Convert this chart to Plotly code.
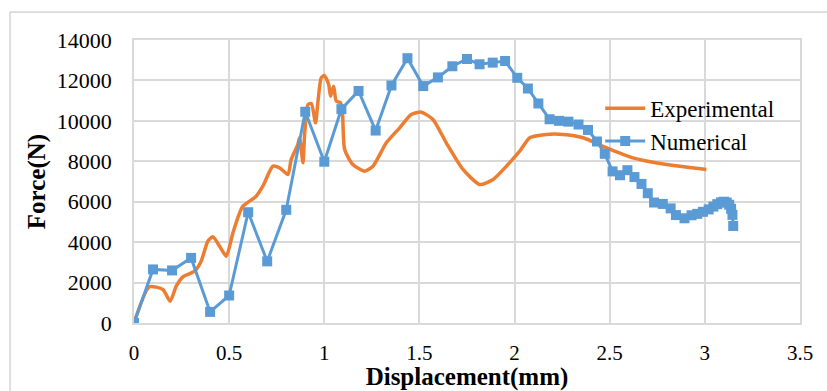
import plotly.graph_objects as go

# Experimental series (displacement mm, force N)
exp_x = [0, 0.081, 0.152, 0.19, 0.222, 0.257, 0.318, 0.353, 0.388, 0.414, 0.45, 0.485,
         0.52, 0.555, 0.572, 0.642, 0.677, 0.73, 0.765, 0.809, 0.826, 0.861, 0.87, 0.888,
         0.896, 0.914, 0.932, 0.954, 0.966, 0.984, 1.0, 1.023, 1.033, 1.049, 1.063, 1.085,
         1.095, 1.107, 1.15, 1.212, 1.256, 1.326, 1.396, 1.457, 1.51, 1.571, 1.641, 1.729,
         1.817, 1.887, 1.957, 2.027, 2.08, 2.167, 2.255, 2.36, 2.483, 2.622, 2.798, 3.008]
exp_y = [0, 1790, 1657, 1080, 1820, 2285, 2563, 3057, 4047, 4264, 3800, 3305,
         4462, 5451, 5778, 6273, 6767, 7757, 7677, 7346, 8088, 8830, 9162, 7925,
         9240, 10809, 10859, 9904, 10893, 12130, 12244, 11799, 11220, 11715, 10972, 10900,
         10500, 8583, 7840, 7510, 7757, 8914, 9656, 10314, 10430, 10067, 8914, 7594,
         6852, 7100, 7757, 8500, 9162, 9325, 9325, 9162, 8667, 8172, 7840, 7594]

# Numerical series
num_x = [0, 0.1, 0.2, 0.3, 0.4, 0.5, 0.6, 0.7, 0.8, 0.9, 1.0, 1.09, 1.18, 1.27, 1.353,
         1.437, 1.52, 1.597, 1.673, 1.75, 1.816, 1.885, 1.95, 2.014, 2.07, 2.125, 2.184,
         2.234, 2.283, 2.336, 2.386, 2.433, 2.474, 2.515, 2.554, 2.593, 2.63, 2.667, 2.70,
         2.733, 2.779, 2.82, 2.848, 2.893, 2.93, 2.96, 2.99, 3.02, 3.045, 3.065, 3.085,
         3.10, 3.115, 3.128, 3.138, 3.145, 3.149]
num_y = [0, 2650, 2600, 3220, 550, 1360, 5480, 3050, 5600, 10450, 7980, 10580, 11480,
         9520, 11750, 13100, 11720, 12150, 12700, 13060, 12800, 12880, 12960, 12130, 11600,
         10860, 10080, 10000, 9960, 9820, 9550, 8980, 8370, 7500, 7310, 7560, 7220, 6880,
         6420, 5960, 5890, 5670, 5340, 5180, 5330, 5400, 5500, 5620, 5760, 5880, 5970,
         6000, 5960, 5850, 5650, 5350, 4800]

x_ticks = [0, 0.5, 1, 1.5, 2, 2.5, 3, 3.5]
x_tick_labels = ["0", "0.5", "1", "1.5", "2", "2.5", "3", "3.5"]
y_ticks = [0, 2000, 4000, 6000, 8000, 10000, 12000, 14000]
y_tick_labels = ["0", "2000", "4000", "6000", "8000", "10000", "12000", "14000"]

FONT = "Liberation Serif, Times New Roman, serif"
GRID = "#d9d9d9"

fig = go.Figure()
fig.add_trace(go.Scatter(
    x=exp_x, y=exp_y, name="Experimental", mode="lines",
    line=dict(color="#ed7d31", width=3.5, shape="spline", smoothing=0.6),
))
fig.add_trace(go.Scatter(
    x=num_x, y=num_y, name="Numerical", mode="lines+markers",
    line=dict(color="#5b9bd5", width=3),
    marker=dict(symbol="square", size=10, color="#5b9bd5"),
))

fig.update_layout(
    width=827, height=391,
    margin=dict(l=134, r=27, t=40, b=67.5),
    paper_bgcolor="white", plot_bgcolor="white",
    font=dict(family=FONT, size=22, color="black"),
    showlegend=True,
    legend=dict(
        x=0.70, y=0.835, xanchor="left", yanchor="top",
        bgcolor="rgba(0,0,0,0)", font=dict(family=FONT, size=23, color="black"),
        tracegroupgap=0, itemwidth=40,
    ),
    xaxis=dict(
        range=[0, 3.5], tickvals=x_ticks, ticktext=x_tick_labels,
        showgrid=True, gridcolor=GRID, gridwidth=1.5,
        showline=True, linecolor=GRID, linewidth=1.5, mirror=True,
        zeroline=False, ticks="", ticklabelstandoff=10, automargin=False,
        tickfont=dict(family=FONT, size=21, color="black"),
        title=dict(text="Displacement(mm)", standoff=0,
                   font=dict(family=FONT, size=25, color="black", weight="bold")),
    ),
    yaxis=dict(
        range=[0, 14000], tickvals=y_ticks, ticktext=y_tick_labels,
        showgrid=True, gridcolor=GRID, gridwidth=1.5,
        showline=True, linecolor=GRID, linewidth=1.5, mirror=True,
        zeroline=False, ticks="", ticklabelstandoff=16, automargin=False,
        tickfont=dict(family=FONT, size=22, color="black"),
        title=dict(text="Force(N)", standoff=4,
                   font=dict(family=FONT, size=25, color="black", weight="bold")),
    ),
)

# outer chart-area border
fig.add_shape(type="rect", xref="paper", yref="paper",
              x0=-0.1862, y0=-0.35, x1=1.1, y1=1.0988,
              line=dict(color="#bfbfbf", width=1), layer="below")

fig.write_html("out.html", config={"displayModeBar": False},
               post_script="document.body.style.margin='0';")
